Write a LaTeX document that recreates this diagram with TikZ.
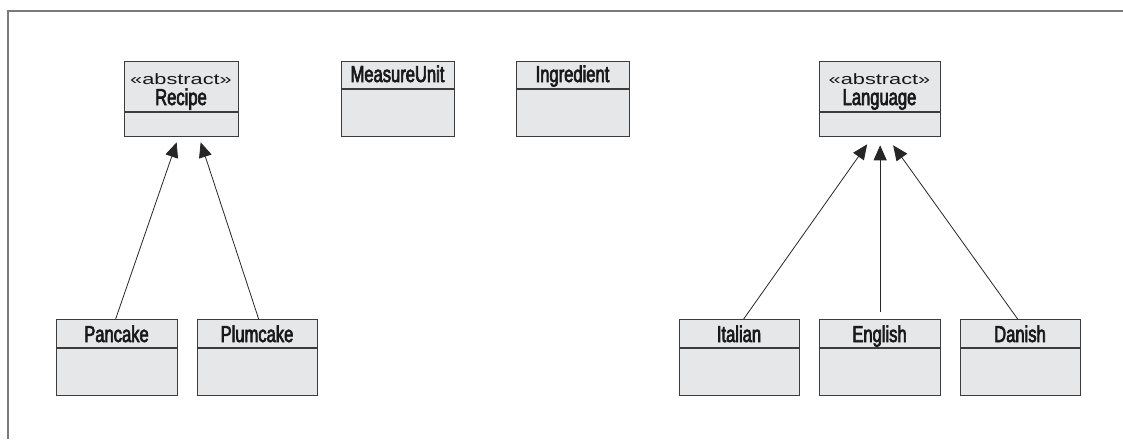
\documentclass[tikz,border=0pt]{standalone}
\usepackage{fontspec}
\setmainfont{Liberation Sans}
\newfontfamily\condf{Liberation Sans}[FakeStretch=0.72,FakeBold=2.8]
\newfontfamily\widef{Liberation Sans}[FakeStretch=1.45]
\usetikzlibrary{arrows.meta,calc}
\definecolor{boxfill}{HTML}{E6E7E8}
\definecolor{boxline}{HTML}{3C3C3C}
\definecolor{framegray}{HTML}{7A7A7A}
\tikzset{
  cls/.style={draw=boxline,fill=boxfill,line width=1.3pt,inner sep=0pt,anchor=north west},
  divline/.style={draw=boxline,line width=1.3pt},
  cname/.style={anchor=base,inner sep=0pt,font=\condf\fontsize{23}{23}\selectfont,text=black!90},
  stereo/.style={anchor=base,inner sep=0pt,font=\widef\fontsize{15}{15}\selectfont,text=black!90},
  inh/.style={draw=black!85,line width=0.8pt,-{Triangle[length=15pt,width=13pt]}},
  framel/.style={draw=framegray,line width=2pt}
}
\begin{document}
\begin{tikzpicture}[x=1pt,y=-1pt]
\useasboundingbox (0,0) rectangle (1123,439);
\draw[framel] (1123,11) -- (8,11) -- (8,439);

% top row
\node[cls,minimum width=114pt,minimum height=75pt] (recipe) at (124,61) {};
\draw[divline] (124,112) -- (238,112);
\node[stereo] (recipe-s) at (181,84) {«abstract»};
\node[cname] (recipe-t) at (181,105) {Recipe};

\node[cls,minimum width=113pt,minimum height=75pt] (measure) at (341,61) {};
\draw[divline] (341,89) -- (454,89);
\node[cname] (measure-t) at (397.5,82) {MeasureUnit};

\node[cls,minimum width=113pt,minimum height=75pt] (ingr) at (516,61) {};
\draw[divline] (516,89) -- (629,89);
\node[cname] (ingr-t) at (572.5,82) {Ingredient};

\node[cls,minimum width=121pt,minimum height=75pt] (lang) at (819,61) {};
\draw[divline] (819,112) -- (940,112);
\node[stereo] (lang-s) at (879.5,84) {«abstract»};
\node[cname] (lang-t) at (879.5,105) {Language};

% bottom row
\node[cls,minimum width=121pt,minimum height=76pt] (pancake) at (56,319) {};
\draw[divline] (56,348) -- (177,348);
\node[cname] (pancake-t) at (116.5,342) {Pancake};

\node[cls,minimum width=120pt,minimum height=76pt] (plum) at (197,319) {};
\draw[divline] (197,348) -- (317,348);
\node[cname] (plum-t) at (257,342) {Plumcake};

\node[cls,minimum width=120pt,minimum height=76pt] (italian) at (679,319) {};
\draw[divline] (679,348) -- (799,348);
\node[cname] (italian-t) at (739,342) {Italian};

\node[cls,minimum width=121pt,minimum height=76pt] (english) at (819,319) {};
\draw[divline] (819,348) -- (940,348);
\node[cname] (english-t) at (879.5,342) {English};

\node[cls,minimum width=120pt,minimum height=76pt] (danish) at (960,319) {};
\draw[divline] (960,348) -- (1080,348);
\node[cname] (danish-t) at (1020,342) {Danish};

% inheritance connectors
\draw[inh] ($(pancake.north)+(-1.5,0)$) -- ($(recipe.south)+(-5,5)$);
\draw[inh] ($(plum.north)+(1,0)$) -- ($(recipe.south)+(19,5)$);
\draw[inh] ($(italian.north)+(4,0)$) -- ($(lang.south)+(-13,7)$);
\draw[inh] ($(english.north)+(0,-7)$) -- ($(lang.south)+(0,8)$);
\draw[inh] ($(danish.north)+(-3,0)$) -- ($(lang.south)+(13,8)$);
\end{tikzpicture}
\end{document}
